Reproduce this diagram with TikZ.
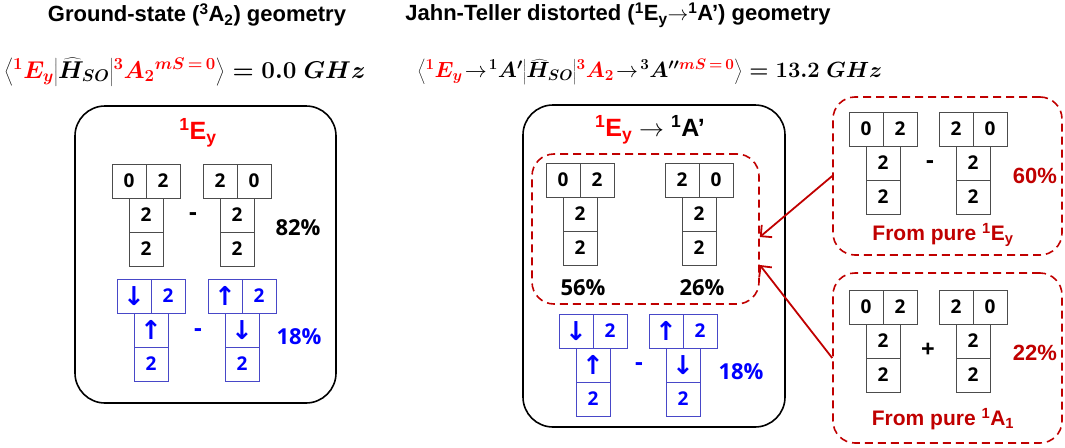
\documentclass[tikz,border=0pt]{standalone}
\usepackage[no-math]{fontspec}
\setmainfont{Liberation Sans}
\newfontfamily\cellfont{Open Sans}
\newfontfamily\arrfont{DejaVu Sans}
\usetikzlibrary{arrows.meta}
\definecolor{dred}{RGB}{192,0,0}
\definecolor{cellblue}{RGB}{72,72,200}
\newsavebox\eqLbox
\newsavebox\eqRbox
\newcommand\thinto{\mkern1.5mu\mbox{\unboldmath$\rightarrow$}\mkern1.5mu}
\tikzset{
  cell/.style={draw=black!70, line width=0.9pt, minimum size=34pt, inner sep=0pt,
    font=\cellfont\bfseries\fontsize{19}{19}\selectfont},
  bcell/.style={cell, draw=cellblue, text=blue},
  pct/.style={font=\cellfont\bfseries\fontsize{22}{22}\selectfont},
  sign/.style={font=\cellfont\bfseries\fontsize{24}{24}\selectfont},
  headline/.style={font=\bfseries\fontsize{22}{26}\selectfont},
  eqline/.style={scale=#1},
  statebox/.style={draw, line width=1.6pt, rounded corners=30pt},
  purebox/.style={draw=dred, line width=1.6pt, dash pattern=on 8pt off 5pt, rounded corners=22pt},
  statename/.style={font=\bfseries\fontsize{25}{28}\selectfont},
  purename/.style={text=dred, font=\bfseries\fontsize{21}{25}\selectfont},
}
\begin{document}
\sbox\eqLbox{\fontsize{22}{26}\selectfont\boldmath$\left\langle{\color{red}{}^{1}E_y}\middle|\widehat{H}_{SO}\middle|{\color{red}{}^{3}A_2}^{\color{red}mS\,=\,0}\right\rangle = 0.0\ GHz$}%
\sbox\eqRbox{\fontsize{22}{26}\selectfont\boldmath$\left\langle{\color{red}{}^{1}E_y}\thinto{}^{1}A'\middle|\widehat{H}_{SO}\middle|{\color{red}{}^{3}A_2}\thinto{}^{3}A^{\prime\prime{\color{red}mS\,=\,0}}\right\rangle = 13.2\ GHz$}%
\begin{tikzpicture}[x=1pt, y=-1pt]
\useasboundingbox (0,0) rectangle (1065,447);
% orbital diagram: name, x, y, style, two top cells, two lower cells
\def\orb#1#2#3#4#5#6#7#8{%
  \node[#4] (#1a) at (#2-17,#3)    {#5};
  \node[#4] (#1b) at (#2+17,#3)    {#6};
  \node[#4] (#1c) at (#2,#3+34)    {#7};
  \node[#4] (#1d) at (#2,#3+68)    {#8};}
\def\up{{\arrfont\bfseries\fontsize{26}{26}\selectfont\char"2191}}
\def\dn{{\arrfont\bfseries\fontsize{26}{26}\selectfont\char"2193}}

% headings
\node[headline] (hL) at (197,15) {Ground-state (\textsuperscript{3}A\textsubscript{2}) geometry};
\node[headline] (hR) at (618,15) {Jahn-Teller distorted (\textsuperscript{1}E\textsubscript{y}$\rightarrow$\textsuperscript{1}A’) geometry};

% matrix elements
\node[eqline=1.17] (eqL) at (185,72) {\usebox\eqLbox};
\node[eqline=1.06] (eqR) at (650,72) {\usebox\eqRbox};

% ground-state panel
\node[statebox, minimum width=261pt, minimum height=297pt] (boxL) at (205.5,254.5) {};
\node[statename, text=red] (nL) at (198,133) {\textsuperscript{1}E\textsubscript{y}};
\orb{L1}{146}{181}{cell}{0}{2}{2}{2}
\orb{L2}{237}{181}{cell}{2}{0}{2}{2}
\node[sign] (mL1) at (193,217) {-};
\node[pct] (pL1) at (298,228) {82\%};
\orb{L3}{151}{296}{bcell}{\dn}{2}{\up}{2}
\orb{L4}{242}{296}{bcell}{\up}{2}{\dn}{2}
\node[sign, text=blue] (mL2) at (198,333) {-};
\node[pct, text=blue] (pL2) at (299,337) {18\%};

% distorted panel
\node[statebox, minimum width=262pt, minimum height=322pt] (boxM) at (654,266) {};
\node[statename] (nM) at (650,130) {{\color{red}\textsuperscript{1}E\textsubscript{y}} {\mdseries$\rightarrow$} \textsuperscript{1}A’};
\node[purebox, minimum width=227pt, minimum height=150pt] (inner) at (645.5,229) {};
\orb{M1}{580}{180}{cell}{0}{2}{2}{2}
\orb{M2}{699}{180}{cell}{2}{0}{2}{2}
\node[pct] (pM1) at (583,288) {56\%};
\node[pct] (pM2) at (702,288) {26\%};
\orb{M3}{593}{331}{bcell}{\dn}{2}{\up}{2}
\orb{M4}{683}{331}{bcell}{\up}{2}{\dn}{2}
\node[sign, text=blue] (mM) at (639,367) {-};
\node[pct, text=blue] (pM3) at (741,372) {18\%};

% pure states
\node[purebox, minimum width=229pt, minimum height=158pt] (pureE) at (947.5,176) {};
\orb{R1}{883}{129}{cell}{0}{2}{2}{2}
\orb{R2}{973}{129}{cell}{2}{0}{2}{2}
\node[sign] (mR) at (930,165) {-};
\node[pct, text=dred, font=\bfseries\fontsize{22}{22}\selectfont] (pR1) at (1035,176) {60\%};
\node[purename] (fE) at (943,235) {From pure \textsuperscript{1}E\textsubscript{y}};

\node[purebox, minimum width=229pt, minimum height=170pt] (pureA) at (947.5,358) {};
\orb{R3}{883}{307}{cell}{0}{2}{2}{2}
\orb{R4}{973}{307}{cell}{2}{0}{2}{2}
\node[sign] (pl) at (928,350) {+};
\node[pct, text=dred, font=\bfseries\fontsize{22}{22}\selectfont] (pR2) at (1035,353) {22\%};
\node[purename] (fA) at (943,419) {From pure \textsuperscript{1}A\textsubscript{1}};

% contributions
\draw[dred, line width=1.8pt, -{Straight Barb[length=8pt,width=16pt]}] (pureE.west) -- ([yshift=-8pt]inner.east);
\draw[dred, line width=1.8pt, -{Straight Barb[length=8pt,width=16pt]}] (pureA.west) -- ([yshift=-36pt]inner.east);
\end{tikzpicture}
\end{document}
